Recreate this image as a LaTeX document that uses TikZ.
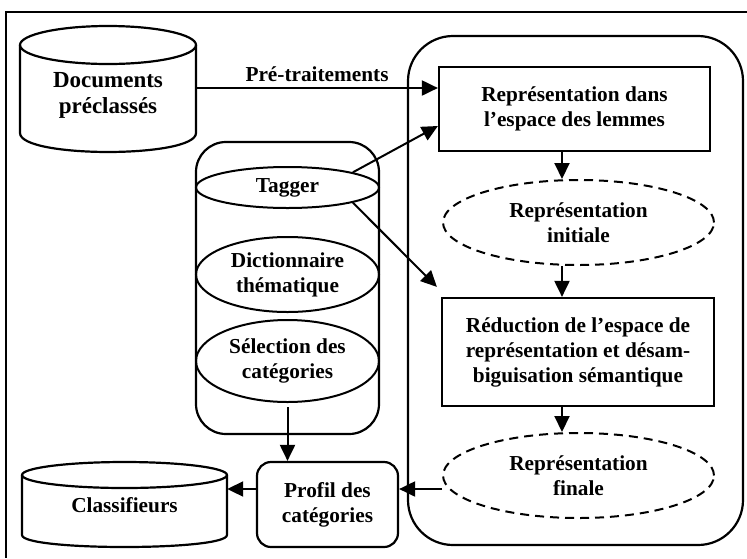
\documentclass[tikz,border=0pt]{standalone}
\usepackage{fontspec}
\setmainfont{Liberation Serif}
\usetikzlibrary{arrows.meta,shapes.geometric}
\tikzset{
  lbl/.style={font=\bfseries\fontsize{21.3}{25}\selectfont, align=center, inner sep=0pt},
  boxnode/.style={lbl, draw, line width=2.2pt, rectangle},
  dashell/.style={lbl, draw, line width=2pt, ellipse, dash pattern=on 9pt off 6pt},
  solell/.style={lbl, draw, line width=2pt, ellipse},
  rbox/.style={lbl, draw, line width=2.2pt, rectangle},
  cyl/.style={line width=2.2pt},
  arr/.style={line width=2pt, -{Triangle[length=16pt,width=15pt]}},
  frameline/.style={line width=2.6pt}
}
\begin{document}
\begin{tikzpicture}[x=1pt,y=-1pt]
\useasboundingbox (0,0) rectangle (747,558);
% frame
\draw[frameline] (747,12) -- (6,12) -- (6,558);

% big rounded process container
\node[rbox, rounded corners=45pt, minimum width=335pt, minimum height=509pt] (proc) at (575.5,290.5) {};
% tool container
\node[rbox, rounded corners=30pt, minimum width=183pt, minimum height=292pt] (tool) at (287.5,288) {};

% Documents cylinder
\draw[cyl] (108,45) ellipse [x radius=88pt, y radius=19pt];
\draw[cyl] (20,45) -- (20,133) .. controls (20,158.3) and (196,158.3) .. (196,133) -- (196,45);
\node[lbl, font=\bfseries\fontsize{23}{26}\selectfont, minimum width=176pt] (doc) at (108,95) {Documents\\préclassés};

% Classifieurs cylinder
\draw[cyl] (124.5,475) ellipse [x radius=102.5pt, y radius=13pt];
\draw[cyl] (22,475) -- (22,535) .. controls (22,551) and (227,551) .. (227,535) -- (227,475);
\node[lbl, minimum width=205pt] (cls) at (124.5,505) {Classifieurs};

% tool ellipses
\node[solell, minimum width=183pt, minimum height=41pt] (tag) at (287.5,187.5) {Tagger};
\node[solell, minimum width=183pt, minimum height=75pt] (dict) at (287.5,274.5) {Dictionnaire\\thématique};
\node[solell, minimum width=183pt, minimum height=82pt] (sel) at (287.5,361) {Sélection des\\catégories};

% process nodes
\node[boxnode, minimum width=271pt, minimum height=84pt] (box1) at (574.5,109) {Représentation dans\\l’espace des lemmes};
\node[dashell, minimum width=271pt, minimum height=85pt] (ell1) at (578.5,222.5) {Représentation\\initiale};
\node[boxnode, minimum width=272pt, minimum height=108pt] (box2) at (578,352) {Réduction de l’espace de\\représentation et désam-\\biguisation sémantique};
\node[dashell, minimum width=271pt, minimum height=85pt] (ell2) at (578.5,475.5) {Représentation\\finale};

% profil
\node[rbox, rounded corners=14pt, minimum width=141pt, minimum height=85pt] (prof) at (327.5,504.5) {Profil des\\catégories};

% connectors
\draw[arr] (doc.east |- 0,88) -- node[lbl, above=5pt] (pre) {Pré-traitements} (box1.west |- 0,88);
\draw[arr] (tag.north east) -- (box1.west |- 0,126);
\draw[arr] (tag.south east) -- ([shift={(-4,-10)}]box2.north west);
\draw[arr] (box1.south -| 562,0) -- (ell1.north -| 562,0);
\draw[arr] (ell1.south -| 562,0) -- (box2.north -| 562,0);
\draw[arr] (box2.south -| 562,0) -- (ell2.north -| 562,0);
\draw[arr] (ell2.west |- 0,489) -- (prof.east |- 0,489);
\draw[arr] (prof.west |- 0,489) -- (cls.east |- 0,489);
\draw[arr] ([yshift=-4pt]sel.south) -- (sel.south |- prof.north);
\end{tikzpicture}
\end{document}
